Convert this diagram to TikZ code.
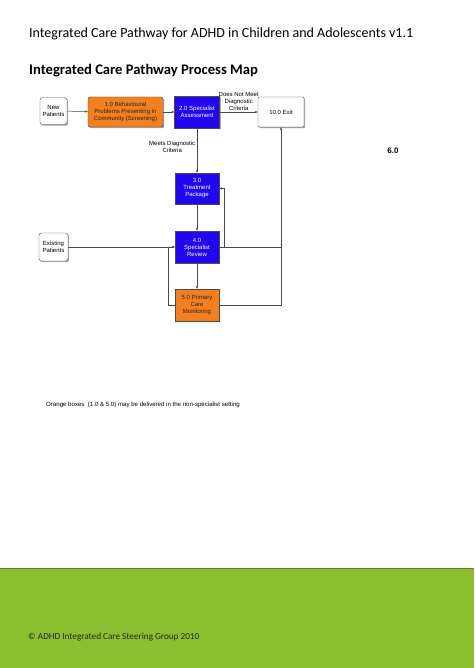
\documentclass[tikz,border=0pt]{standalone}
\usepackage{fontspec}
\setmainfont{Carlito}
\newfontfamily\diagfont{Liberation Sans}
\usepackage{tikz}
\usetikzlibrary{positioning,arrows.meta,calc,shadows}
\definecolor{icline}{HTML}{4A4A4A}
\definecolor{icorange}{HTML}{F37F1F}
\definecolor{icblue}{HTML}{2206EE}
\definecolor{icgreen}{HTML}{8BBF2F}
\definecolor{icgreendark}{HTML}{5E7F2A}

\begin{document}
\begin{tikzpicture}[
  x=1pt, y=-1pt,
  font=\diagfont\fontsize{6}{7}\selectfont,
  box/.style={draw=icline, line width=0.4pt, align=center, inner sep=1pt,
              fill=#1, drop shadow={shadow xshift=1.2pt, shadow yshift=-1.2pt,
              opacity=0.35, fill=black}},
  box/.default=white,
  bluebox/.style={box=icblue, text=white},
  orangebox/.style={box=icorange, text=black!85},
  endbox/.style={box=white, rounded corners=2.5pt},
  arr/.style={-{Stealth[length=3pt, width=2.4pt]}, line width=0.5pt, draw=icline},
  line/.style={line width=0.5pt, draw=icline},
  lbl/.style={align=center, inner sep=1.5pt},
]
  \useasboundingbox (0,0) rectangle (474,668);

  % page header
  \node[anchor=base west, inner sep=0pt, font=\fontsize{14}{16}\selectfont] (head) at (29,38)
    {Integrated Care Pathway for ADHD in Children and Adolescents v1.1};
  \node[anchor=base west, inner sep=0pt, font=\bfseries\fontsize{14.6}{17}\selectfont] (title) at (29,75)
    {Integrated Care Pathway Process Map};

  % boxes
  \node[endbox, minimum width=27, minimum height=27] (new) at (53.5,111)
    {New\\Patients};
  \node[orangebox, rounded corners=2pt, minimum width=75, minimum height=30] (scr) at (125.5,112)
    {1.0 Behavioural\\Problems Presenting in\\Community (Screening)};
  \node[bluebox, minimum width=45, minimum height=32] (spec) at (197,112)
    {2.0 Specialist\\Assessment};
  \node[box, rounded corners=1pt, minimum width=46, minimum height=30] (exit) at (281,112)
    {10.0 Exit};
  \node[bluebox, minimum width=44, minimum height=31] (treat) at (197,188.5)
    {3.0\\Treatment\\Package};
  \node[bluebox, minimum width=44, minimum height=32] (rev) at (197,247)
    {4.0\\Specialist\\Review};
  \node[orangebox, minimum width=44, minimum height=32] (prim) at (197,305)
    {5.0 Primary\\Care\\Monitoring};
  \node[endbox, minimum width=29, minimum height=28] (exist) at (53.5,247)
    {Existing\\Patients};

  \coordinate (jn) at (exit.south |- rev.east);

  % connectors
  \draw[arr] (new) -- (scr);
  \draw[arr] (scr) -- (spec);
  \draw[arr] (spec) -- node[lbl, above] {Does Not Meet\\Diagnostic\\Criteria} (exit);
  \draw[arr] (spec) -- node[lbl, left, pos=0.42] {Meets Diagnostic\\Criteria} (treat);
  \draw[arr] (treat) -- (rev);
  \draw[arr] (rev) -- (prim);
  \draw[arr] (exist) -- (rev);
  \draw[arr] (rev.east) -- ++(5,0) |- (treat.east);
  \draw[arr] (rev.east) -| (exit.south);
  \draw[line] (prim.east) -| (jn);
  \draw[arr] (prim.west) -- ++(-7,0) |- (rev.west);

  \node[font=\diagfont\bfseries\fontsize{8}{9}\selectfont] (sixo) at (393,151) {6.0};

  \node[anchor=base west, inner sep=0pt, font=\diagfont\fontsize{6.1}{7}\selectfont] (note) at (46,406)
    {Orange boxes\ \ (1.0 \& 5.0) may be delivered in the non-specialist setting};

  % footer band
  \fill[icgreen] (0,568) rectangle (474,668);
  \draw[icgreendark, line width=0.8pt] (0,568) -- (474,568);
  \node[anchor=base west, inner sep=0pt, font=\fontsize{9.2}{11}\selectfont, text=black!85] (copy) at (28,639)
    {\textcopyright{} ADHD Integrated Care Steering Group 2010};
\end{tikzpicture}
\end{document}
